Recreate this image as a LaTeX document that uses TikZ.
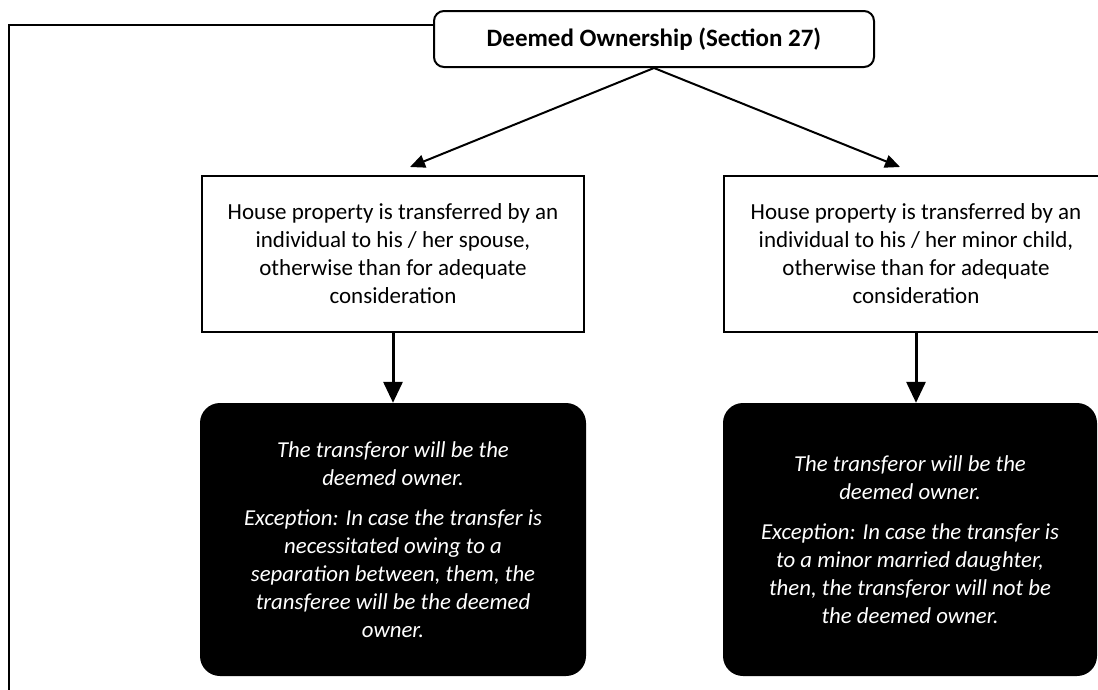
\documentclass[tikz,border=0pt]{standalone}
\usepackage{fontspec}
\setmainfont{Carlito}
\usetikzlibrary{arrows.meta,calc}
\begin{document}
\begin{tikzpicture}[x=1pt,y=-1pt,
  titlebox/.style={draw=black,line width=2pt,rounded corners=10pt,fill=white,
    minimum width=440pt,minimum height=56pt,inner sep=0pt,
    font=\fontsize{25}{30}\selectfont\bfseries},
  condbox/.style={draw=black,line width=2pt,fill=white,inner sep=0pt,
    minimum height=156pt,align=center,font=\fontsize{23}{28}\selectfont},
  resbox/.style={fill=black,rounded corners=20pt,inner sep=0pt,
    minimum height=273pt,align=center,text=white,
    font=\fontsize{22.8}{28}\selectfont\itshape},
  diagarrow/.style={line width=2pt,-{Triangle[length=15pt,width=13pt]}},
  vertarrow/.style={line width=3pt,-{Triangle[length=21pt,width=19pt]}},
  frameline/.style={line width=2pt}]
\useasboundingbox (0,0) rectangle (1098,689);
\node[titlebox] (top) at (654,39) {Deemed Ownership (Section 27)};
\node[condbox,minimum width=382pt] (lbox) at (393,254)
  {House property is transferred by an\\individual to his / her spouse,\\otherwise than for adequate\\consideration};
\node[condbox,minimum width=384pt] (rbox) at (916,254)
  {House property is transferred by an\\individual to his / her minor child,\\otherwise than for adequate\\consideration};
\node[resbox,minimum width=386pt] (lres) at (393,539.5)
  {The transferor will be the\\deemed owner.\\[12pt]Exception: In case the transfer is\\necessitated owing to a\\separation between, them, the\\transferee will be the deemed\\owner.};
\node[resbox,minimum width=374pt] (rres) at (910,539.5)
  {The transferor will be the\\deemed owner.\\[12pt]Exception: In case the transfer is\\to a minor married daughter,\\then, the transferor will not be\\the deemed owner.};
\coordinate (ltip) at (410,167);
\coordinate (rtip) at (900,167);
\coordinate (corner) at (9,25);
\coordinate (lineend) at (9,690);
\draw[diagarrow] (top.south) -- (ltip);
\draw[diagarrow] (top.south) -- (rtip);
\draw[vertarrow] (lbox.south) -- (lres.north);
\draw[vertarrow] (rbox.south) -- (rbox.south |- rres.north);
\draw[frameline] (top.west |- corner) -- (corner) -- (lineend);
\end{tikzpicture}
\end{document}
